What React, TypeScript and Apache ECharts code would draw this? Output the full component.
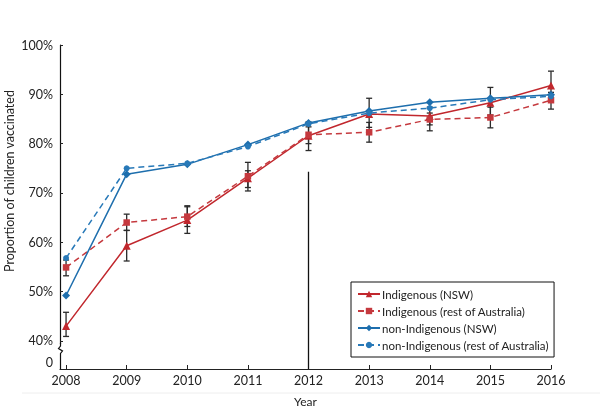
import React, { useEffect, useRef } from "react";
import * as echarts from "echarts";

const YEARS = [2008, 2009, 2010, 2011, 2012, 2013, 2014, 2015, 2016];
const SERIES_NAMES = [
  "Indigenous (NSW)",
  "Indigenous (rest of Australia)",
  "non-Indigenous (NSW)",
  "non-Indigenous (rest of Australia)",
];
const INDIG_NSW = [43.0, 59.3, 64.5, 73.0, 81.6, 86.0, 85.6, 88.3, 91.8];
const INDIG_REST = [54.9, 64.0, 65.2, 73.4, 81.8, 82.3, 84.9, 85.3, 88.8];
const NONINDIG_NSW = [49.2, 73.8, 75.8, 79.8, 84.2, 86.6, 88.4, 89.2, 89.9];
const NONINDIG_REST = [56.8, 75.0, 76.0, 79.4, 84.0, 86.2, 87.2, 88.9, 89.6];

const INDIG_NSW_LOW = [40.9, 56.2, 61.8, 70.4, 78.6, 83.3, 83.8, 85.8, 89.0];
const INDIG_NSW_HIGH = [45.8, 62.4, 67.2, 74.5, 84.4, 89.2, 87.4, 91.4, 94.7];
const INDIG_REST_LOW = [53.2, 62.4, 63.2, 71.1, 80.0, 80.3, 82.6, 83.2, 87.0];
const INDIG_REST_HIGH = [56.4, 65.7, 67.4, 76.2, 83.4, 84.3, 86.2, 87.4, 90.4];

const Y_TICKS = [40, 50, 60, 70, 80, 90, 100];
const Y_ZERO_POS = 35.7;
const Y_LABELS = [Y_ZERO_POS, ...Y_TICKS];
const DIVIDER_YEAR = 2012;
const DIVIDER_TOP = 74.3;

const RED = "#c1272d";
const RED_D = "#c5393e";
const BLUE = "#1d6ead";
const BLUE_D = "#2879b8";
const FONT = "Lato";

export default function App() {
  const ref = useRef<HTMLDivElement>(null);
  useEffect(() => {
    if (!ref.current) return;
    const chart = echarts.init(ref.current, null, { renderer: "svg" });
    const pts = (vals: number[]) => YEARS.map((y, i) => [y, vals[i]]);
    const errData = (lo: number[], hi: number[]) => YEARS.map((y, i) => [y, lo[i], hi[i]]);
    const errSeries = (lo: number[], hi: number[]) => ({
      type: "custom",
      z: 1,
      silent: true,
      data: errData(lo, hi),
      encode: { x: 0, y: [1, 2] },
      renderItem: (params: any, api: any) => {
        const x = api.value(0);
        const p1 = api.coord([x, api.value(2)]);
        const p2 = api.coord([x, api.value(1)]);
        const w = 3;
        const st = { stroke: "#2a2a2a", lineWidth: 1.3 };
        return {
          type: "group",
          children: [
            { type: "line", shape: { x1: p1[0], y1: p1[1], x2: p2[0], y2: p2[1] }, style: st },
            { type: "line", shape: { x1: p1[0] - w, y1: p1[1], x2: p1[0] + w, y2: p1[1] }, style: st },
            { type: "line", shape: { x1: p2[0] - w, y1: p2[1], x2: p2[0] + w, y2: p2[1] }, style: st },
          ],
        };
      },
    });
    const lineSeries = (name: string, vals: number[], color: string, dashed: boolean, symbol: string, size: number) => ({
      type: "line",
      name,
      z: 3,
      data: pts(vals),
      symbol,
      symbolSize: size,
      showSymbol: true,
      lineStyle: { color, width: 1.5, type: dashed ? [6, 4] : "solid" },
      itemStyle: { color },
    });
    chart.setOption({
      animation: false,
      grid: { left: 60, right: 49, top: 45, bottom: 40, outerBoundsMode: "none", containLabel: false },
      legend: {
        orient: "vertical",
        left: 351,
        top: 282,
        padding: [6, 5, 6, 6],
        itemGap: 5,
        itemWidth: 22,
        itemHeight: 8,
        backgroundColor: "#fff",
        borderColor: "#111",
        borderWidth: 1,
        borderRadius: 0,
        textStyle: { fontFamily: FONT, fontSize: 11.5, color: "#222", padding: [0, 0, 0, -3] },
        data: SERIES_NAMES,
      },
      xAxis: {
        type: "value",
        min: 2007.9,
        max: 2016,
        name: "Year",
        nameLocation: "middle",
        nameGap: 26,
        nameTextStyle: { fontFamily: FONT, fontSize: 12, color: "#222" },
        splitLine: { show: false },
        axisLine: { lineStyle: { color: "#222", width: 1.2 } },
        axisTick: { inside: true, length: 4, customValues: YEARS, lineStyle: { color: "#222" } },
        axisLabel: {
          customValues: YEARS,
          formatter: (v: number) => String(v),
          fontFamily: FONT,
          fontSize: 12.5,
          color: "#222",
          margin: 5,
        },
      },
      yAxis: {
        type: "value",
        min: 34.3,
        max: 100,
        splitLine: { show: false },
        axisLine: { show: true, lineStyle: { color: "#111", width: 1.2 } },
        axisTick: { show: true, inside: true, length: 3, customValues: Y_TICKS, lineStyle: { color: "#222" } },
        axisLabel: {
          customValues: Y_LABELS,
          formatter: (v: number) => (Math.abs(v - Y_ZERO_POS) < 0.01 ? "0" : v + "%"),
          fontFamily: FONT,
          fontSize: 12.5,
          color: "#222",
          margin: 7,
        },
      },
      graphic: [
        { type: "line", shape: { x1: 22, y1: 393, x2: 600, y2: 393 }, style: { stroke: "#eeeeee", lineWidth: 1 }, silent: true },
        { type: "rect", shape: { x: 56, y: 344, width: 9, height: 12 }, style: { fill: "#fff" }, z: 100 },
        {
          type: "polyline",
          z: 101,
          shape: { points: [[60.5, 343], [60.5, 346], [58.5, 348.5], [62.5, 351], [60.5, 353.5], [60.5, 356]] },
          style: { stroke: "#111", lineWidth: 1.2, fill: "none" },
        },
        {
          type: "text",
          x: 9,
          y: 181,
          rotation: Math.PI / 2,
          style: {
            text: "Proportion of children vaccinated",
            fontFamily: FONT,
            fontSize: 12.5,
            fill: "#222",
            align: "center",
            verticalAlign: "middle",
          },
        },
      ],
      series: [
        errSeries(INDIG_NSW_LOW, INDIG_NSW_HIGH),
        errSeries(INDIG_REST_LOW, INDIG_REST_HIGH),
        {
          ...lineSeries(SERIES_NAMES[0], INDIG_NSW, RED, false, "triangle", 8),
          markLine: {
            silent: true,
            symbol: "none",
            label: { show: false },
            lineStyle: { color: "#111", width: 1.3, type: "solid" },
            data: [[{ coord: [DIVIDER_YEAR, DIVIDER_TOP] }, { coord: [DIVIDER_YEAR, 34.3] }]],
          },
        },
        lineSeries(SERIES_NAMES[1], INDIG_REST, RED_D, true, "rect", 6.5),
        lineSeries(SERIES_NAMES[2], NONINDIG_NSW, BLUE, false, "diamond", 8),
        lineSeries(SERIES_NAMES[3], NONINDIG_REST, BLUE_D, true, "circle", 6),
      ],
    });
    return () => chart.dispose();
  }, []);
  return <div ref={ref} style={{ position: "fixed", left: 0, top: 0, width: 600, height: 409 }} />;
}
